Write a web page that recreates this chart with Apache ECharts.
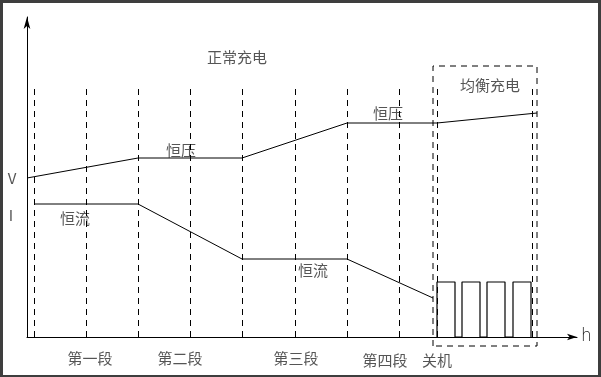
<!DOCTYPE html>
<html>
<head>
<meta charset="utf-8">
<script src="https://cdn.jsdelivr.net/npm/echarts@6/dist/echarts.min.js"></script>
<style>
  html, body { margin: 0; padding: 0; background: #3e3e3e; }
  #main { position: absolute; left: 3px; top: 3px; width: 595px; height: 372px; background: #fff; }
</style>
</head>
<body>
<div id="main"></div>
<script>
// time axis units (1 unit ~ 1px), level axis units
var stageX = [7, 59, 111, 163, 215, 268, 320, 372, 410, 505];
var stageTop = 249;

var voltX = [0, 111, 215, 320, 410, 510];
var voltY = [159, 179, 179, 214, 214, 224];

var currX = [7, 111, 215, 320, 406];
var currY = [133, 133, 78, 78, 39];

var pulseStart = [410, 435, 460, 486];
var pulseWidth = 18;
var pulseHeight = 55;

var boxX = [406, 510];
var boxY = [-9, 271];

var labelText = ['正常充电', '恒压', '恒压', '均衡充电', '恒流', '恒流', 'V', 'I',
                 '第一段', '第二段', '第三段', '第四段', '关机'];
var labelX = [210, 154, 361, 463, 48, 286, -15, -16, 63, 153, 269, 358, 410];
var labelY = [280, 187, 224, 252, 119, 67, 159, 122, -21, -21, -21, -23, -23];

var chart = echarts.init(document.getElementById('main'));

var zip = function (xs, ys) {
    return xs.map(function (x, i) { return [x, ys[i]]; });
};

var pulseData = [];
pulseStart.forEach(function (x) {
    pulseData.push([x, 0], [x, pulseHeight], [x + pulseWidth, pulseHeight], [x + pulseWidth, 0]);
});

var stageLines = stageX.map(function (x) {
    return [{ coord: [x, 0] }, { coord: [x, stageTop] }];
});

var boxData = [
    [boxX[0], boxY[0]], [boxX[0], boxY[1]], [boxX[1], boxY[1]], [boxX[1], boxY[0]], [boxX[0], boxY[0]]
];

var cjk = '"Noto Sans CJK SC", "Noto Sans", sans-serif';
var solid = { color: '#000', width: 1 };

var option = {
    animation: false,
    backgroundColor: '#fff',
    grid: { left: 24, top: 14, width: 550, height: 320 },
    xAxis: {
        type: 'value', min: 0, max: 550,
        name: 'h', nameLocation: 'end', nameGap: 4,
        nameTextStyle: { fontFamily: 'DejaVu Sans', fontSize: 17, color: '#222', fontWeight: 'lighter' },
        axisLine: { lineStyle: { color: '#000', width: 1 }, symbol: ['none', 'arrow'], symbolSize: [5, 10] },
        axisTick: { show: false }, axisLabel: { show: false }, splitLine: { show: false }
    },
    yAxis: {
        type: 'value', min: 0, max: 320,
        axisLine: { lineStyle: { color: '#000', width: 1 }, symbol: ['none', 'arrow'], symbolSize: [5, 12] },
        axisTick: { show: false }, axisLabel: { show: false }, splitLine: { show: false }
    },
    series: [
        {
            name: 'stages', type: 'line', data: [], silent: true,
            markLine: {
                silent: true, symbol: ['none', 'none'], label: { show: false },
                lineStyle: { color: '#000', width: 1, type: [6, 5] },
                data: stageLines
            }
        },
        {
            name: 'V', type: 'line', data: zip(voltX, voltY), showSymbol: false,
            lineStyle: solid, clip: false
        },
        {
            name: 'I', type: 'line', data: zip(currX, currY), showSymbol: false,
            lineStyle: solid, clip: false
        },
        {
            name: 'pulse', type: 'line', data: pulseData, showSymbol: false,
            lineStyle: { color: '#000', width: 1.2 }, clip: false
        },
        {
            name: 'box', type: 'line', data: boxData, showSymbol: false, clip: false,
            lineStyle: { color: '#000', width: 1, type: [6, 5] }
        },
        {
            name: 'labels', type: 'scatter', symbolSize: 0, clip: false, silent: true,
            data: labelText.map(function (t, i) { return { value: [labelX[i], labelY[i]], name: t }; }),
            label: {
                show: true, position: 'inside', formatter: '{b}',
                fontFamily: cjk, fontSize: 15, color: '#2a2a2a'
            }
        }
    ]
};

chart.setOption(option);
</script>
</body>
</html>
